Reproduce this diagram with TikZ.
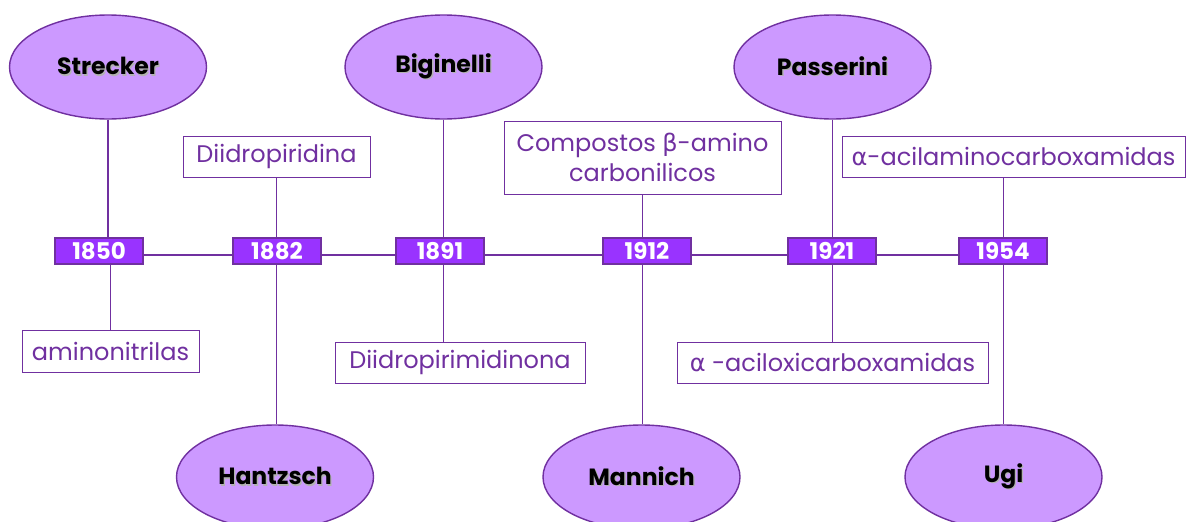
\documentclass[tikz,border=0pt]{standalone}
\usepackage{fontspec}
\setmainfont{Poppins}
\newfontfamily\gk{DejaVu Sans}
\usetikzlibrary{shapes.geometric}
\definecolor{pline}{HTML}{7030A0}
\definecolor{pyear}{HTML}{9933FF}
\definecolor{pell}{HTML}{CC99FF}
\newcommand\shadowed[1]{\makebox[0pt][l]{\hspace{1.3pt}\raisebox{-1.3pt}{\color{black!30}#1}}#1}
\tikzset{
  x=1pt, y=-1pt,
  conn/.style={draw=pline, line width=1.1pt},
  reaction/.style={ellipse, draw=pline, line width=1.4pt, fill=pell, minimum width=197pt, minimum height=104pt, inner sep=0pt, font=\fontsize{23.5}{25}\selectfont\bfseries},
  yearbox/.style={rectangle, draw=pline, line width=1.2pt, fill=pyear, text=white, minimum width=88pt, minimum height=26pt, inner sep=0pt, font=\fontsize{23}{25}\selectfont\bfseries},
  prodbox/.style={rectangle, draw=pline, line width=1pt, fill=white, text=pline, inner sep=0pt, font=\fontsize{24}{30}\selectfont, align=center},
}
\begin{document}
\begin{tikzpicture}
\clip (0,0) rectangle (1189,522);
\fill[white] (0,0) rectangle (1189,522);
% timeline
\coordinate (tl) at (99,255);
\coordinate (tr) at (1003,255);
% reactions
\node[reaction] (strecker) at (108,67) {\shadowed{Strecker}};
\node[reaction] (biginelli) at (443.5,67) {\shadowed{Biginelli}};
\node[reaction] (passerini) at (832.5,67) {\shadowed{Passerini}};
\node[reaction] (hantzsch) at (275,477) {\shadowed{Hantzsch}};
\node[reaction] (mannich) at (641.5,477) {\shadowed{Mannich}};
\node[reaction] (ugi) at (1003.5,477) {\shadowed{Ugi}};
% products
\node[prodbox, minimum width=187pt, minimum height=41pt] (diidro) at (276.5,156.5) {Diidropiridina};
\node[prodbox, minimum width=177pt, minimum height=42pt] (amino) at (110.5,351) {aminonitrilas};
\node[prodbox, minimum width=250pt, minimum height=41pt] (pirim) at (460,362.5) {Diidropirimidinona};
\node[prodbox, minimum width=277pt, minimum height=73pt] (compostos) at (642.5,157.5) {Compostos {\gk β}-amino\\carbonilicos};
\node[prodbox, minimum width=343pt, minimum height=41pt] (acilamino) at (1013.5,156.5) {{\gk α}-acilaminocarboxamidas};
\node[prodbox, minimum width=311pt, minimum height=41pt] (aciloxi) at (832.5,362.5) {{\gk α} -aciloxicarboxamidas};
% connectors (behind year boxes)
\draw[conn] (tl) -- (tr);
\draw[conn] (strecker.south) -- (strecker.south |- tl);
\draw[conn] (amino.north) -- (amino.north |- tl);
\draw[conn] (diidro.south) -- (diidro.south |- tl);
\draw[conn] (diidro.south |- tl) -- (hantzsch.north -| diidro.south);
\draw[conn] (biginelli.south) -- (biginelli.south |- tl);
\draw[conn] (biginelli.south |- tl) -- (biginelli.south |- pirim.north);
\draw[conn] (compostos.south) -- (compostos.south |- tl);
\draw[conn] (compostos.south |- tl) -- (mannich.north -| compostos.south);
\draw[conn] (passerini.south) -- (passerini.south |- tl);
\draw[conn] (passerini.south |- tl) -- (aciloxi.north);
\draw[conn] (ugi.north |- acilamino.south) -- (ugi.north |- tl);
\draw[conn] (ugi.north |- tl) -- (ugi.north);
% years
\node[yearbox] (y1850) at (99,251) {1850};
\node[yearbox] (y1882) at (277,251) {1882};
\node[yearbox] (y1891) at (440,251) {1891};
\node[yearbox] (y1912) at (647,251) {1912};
\node[yearbox] (y1921) at (832,251) {1921};
\node[yearbox] (y1954) at (1003,251) {1954};
\end{tikzpicture}
\end{document}
